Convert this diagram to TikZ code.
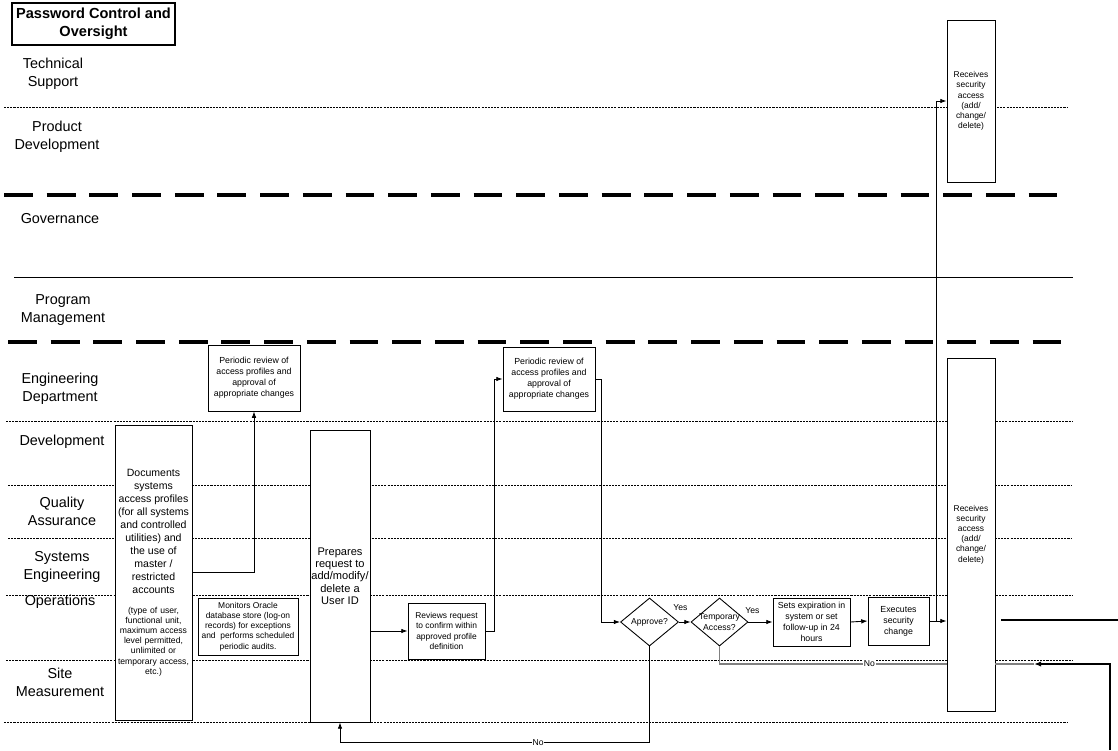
\documentclass[tikz,border=0pt]{standalone}
\usepackage{fontspec}
\setmainfont{Liberation Sans}
\usetikzlibrary{arrows.meta, shapes.geometric}

\begin{document}
\begin{tikzpicture}[
    x=0.02cm, y=-0.02cm,
    lane/.style={align=center, font=\fontsize{8.2}{10.2}\selectfont},
    titlebox/.style={rectangle, draw=black, line width=0.6pt, align=center,
        minimum width=3.26cm, minimum height=0.84cm, inner sep=1pt,
        font=\fontsize{8.3}{10.2}\selectfont\bfseries},
    stepbox/.style={rectangle, draw=black, line width=0.5pt, fill=white,
        align=center, inner sep=0.5pt, font=\fontsize{5}{6.3}\selectfont},
    smallbox/.style={stepbox, font=\fontsize{4.8}{5.8}\selectfont},
    decision/.style={diamond, draw=black, line width=0.5pt, fill=white,
        minimum width=1.16cm, minimum height=0.96cm, inner sep=0pt},
    dtext/.style={align=center, inner sep=0pt, font=\fontsize{4.9}{5.8}\selectfont},
    lbl/.style={inner sep=0.5pt, font=\fontsize{4.9}{5.8}\selectfont},
    nolbl/.style={lbl, fill=white},
    arr/.style={-{Latex[length=3.6pt,width=2.6pt]}, line width=0.5pt},
    dotsep/.style={line width=0.45pt, dash pattern=on 1.2pt off 0.6pt},
    thicksep/.style={line width=1.9pt, dash pattern=on 16.4pt off 7.9pt},
    noline/.style={draw=black!50, line width=1.1pt},
    offline/.style={line width=1.2pt}
]
\useasboundingbox (0,0) rectangle (1118,750);

% Lane separators
\foreach \y/\xa/\xb in {107/4/1068, 421/6/1072, 485/8/1072, 538/8/1072,
                        595/6/1072, 660/6/1072, 722/4/1068}
    \draw[dotsep] (\xa,\y) -- (\xb,\y);
\draw[thicksep] (4,195) -- (1060,195);
\draw[line width=0.5pt] (14,277) -- (1073,277);
\draw[thicksep] (8,342) -- (1064,342);

% Lane names
\node[titlebox] (ttl) at (93.5,24) {Password Control and\\Oversight};
\node[lane] (l1) at (53,74) {Technical\\Support};
\node[lane] (l2) at (57,137) {Product\\Development};
\node[lane] (l3) at (60,219) {Governance};
\node[lane] (l4) at (63,310) {Program\\Management};
\node[lane] (l5) at (60,389) {Engineering\\Department};
\node[lane] (l6) at (62,442) {Development};
\node[lane] (l7) at (62,511) {Quality\\Assurance};
\node[lane] (l8) at (62,567) {Systems\\Engineering};
\node[lane] (l9) at (60,602) {Operations};
\node[lane] (l10) at (60,682) {Site\\Measurement};

% Steps
\node[stepbox, minimum width=1.54cm, minimum height=5.9cm, text width=1.5cm] (doc) at (153.5,572.5)
    {\fontsize{6}{7.4}\selectfont Documents\\ systems\\ access profiles\\ (for all systems\\ and controlled\\
     utilities) and\\ the use of\\ master /\\ restricted\\ accounts\par\vspace{5.5pt}
     \fontsize{4.9}{5.8}\selectfont (type of user,\\ functional unit,\\ maximum access\\ level permitted,\\
     unlimited or\\ temporary access,\\ etc.)\par};
\node[stepbox, minimum width=1.84cm, minimum height=1.32cm] (rev1) at (254,378)
    {Periodic review of\\access profiles and\\approval of\\appropriate changes};
\node[smallbox, minimum width=2cm, minimum height=1.14cm] (mon) at (248,626.5)
    {Monitors Oracle\\database store (log-on\\records) for exceptions\\and~ performs scheduled\\periodic audits.};
\node[stepbox, minimum width=1.2cm, minimum height=5.84cm, font=\fontsize{6.3}{7}\selectfont] (prep) at (340,576)
    {Prepares\\request to\\add/modify/\\delete a\\User ID};
\node[smallbox, minimum width=1.54cm, minimum height=1.12cm] (chk) at (446.5,631)
    {Reviews request\\to confirm within\\approved profile\\definition};
\node[stepbox, minimum width=1.84cm, minimum height=1.28cm] (rev2) at (549,379)
    {Periodic review of\\access profiles and\\approval of\\appropriate changes};
\node[decision, label={[dtext]center:Approve?}] (apr) at (649.5,622) {};
\node[decision, minimum width=1.14cm, label={[dtext]center:{Temporary\\Access?}}] (tmp) at (719.5,622) {};
\node[stepbox, minimum width=1.54cm, minimum height=0.96cm] (sets) at (811.5,622)
    {Sets expiration in\\system or set\\follow-up in 24\\hours};
\node[stepbox, minimum width=1.22cm, minimum height=0.96cm] (exe) at (898.5,621)
    {Executes\\security\\change};
\node[smallbox, minimum width=0.96cm, minimum height=3.24cm] (rcv1) at (971,101)
    {Receives\\security\\access\\(add/\\change/\\delete)};
\node[smallbox, minimum width=0.96cm, minimum height=7.06cm] (rcv2) at (971,534.5)
    {Receives\\security\\access\\(add/\\change/\\delete)};

% Arrows
\draw[arr] (doc.east) -| (rev1.south);
\draw[arr] (prep.east |- chk.west) -- (chk.west);
\draw[arr] (chk.east) -- ++(9,0) |- (rev2.west);
\draw[arr] (rev2.east) -- ++(6,0) |- (apr.west);
\draw[arr] (apr.east) -- (tmp.west);
\draw[arr] (tmp.east) -- (sets.west);
\draw[arr] (sets.east) -- (exe.west);
\draw[arr] (exe.east) -- (rcv2.west |- exe.east);
\coordinate (br) at (936,621);
\draw[arr] (br) |- (rcv1.west);
\draw[arr] (apr.south) -- ++(0,96) -| node[nolbl, pos=0.18] {No} (prep.south);
\node[lbl] (yes1) at (680.5,608) {Yes};
\node[lbl] (yes2) at (752.5,611) {Yes};

% No branch of temporary access
\coordinate (nend) at (1034,664);
\draw[noline] (tmp.south) |- node[nolbl, pos=0.83] {No} (rcv2.west |- nend);
\draw[noline] (rcv2.east |- nend) -- (nend);

% Lines running off the page
\coordinate (pgA) at (1001,620);
\coordinate (pgB) at (1118,620);
\coordinate (pgC) at (1110,750);
\draw[offline] (pgA) -- (pgB);
\draw[offline, -{Latex[length=4pt,width=3pt]}] (pgC) |- (nend);

\end{tikzpicture}
\end{document}
